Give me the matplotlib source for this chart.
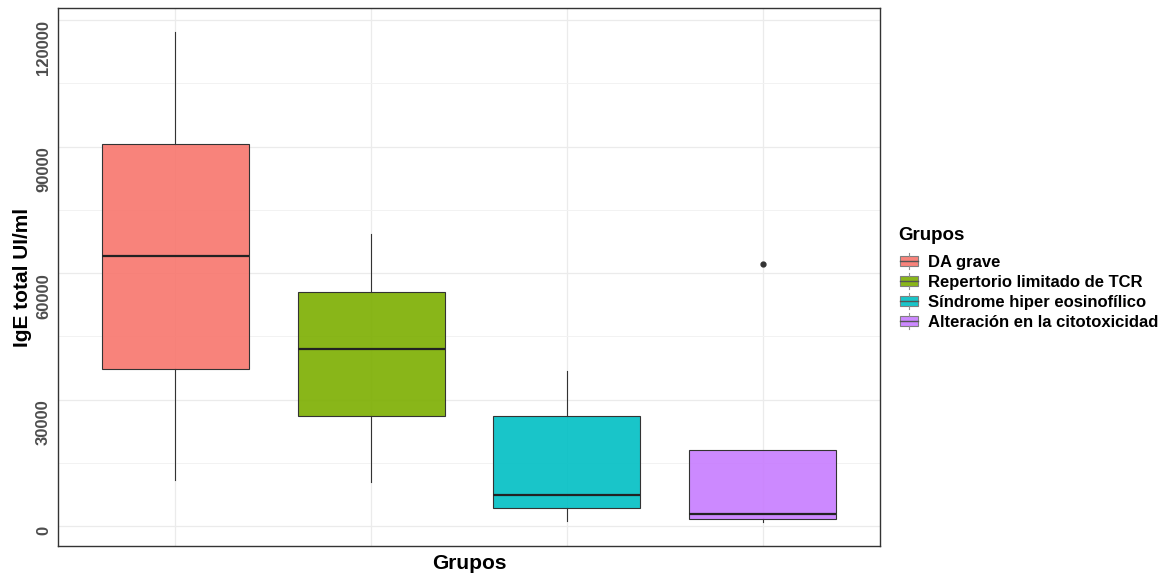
import matplotlib
matplotlib.use("Agg")
import matplotlib.pyplot as plt
from matplotlib.patches import Rectangle
from matplotlib.lines import Line2D
from matplotlib.legend_handler import HandlerBase

plt.rcParams["font.family"] = ["Liberation Sans", "DejaVu Sans"]

# ---- data ----
grupos = ["DA grave", "Repertorio limitado de TCR",
          "Síndrome hiper eosinofílico", "Alteración en la citotoxicidad"]
colores = ["#F8766D", "#7CAE00", "#00BFC4", "#C77CFF"]
whislo = [11000, 10400, 1300, 1100]
q1 = [37300, 26100, 4400, 1800]
med = [64000, 42000, 7350, 2900]
q3 = [90600, 55500, 26100, 18100]
whishi = [117100, 69300, 36800, 18100]
outliers = [[], [], [], [62200]]

yticks = [0, 30000, 60000, 90000, 120000]
yminor = [15000, 45000, 75000, 105000]

fig = plt.figure(figsize=(11.63, 5.76), dpi=100)
ax = fig.add_axes([58 / 1163, 1 - 546 / 576, (880 - 58) / 1163, (546 - 8) / 576])

stats = []
for i, g in enumerate(grupos):
    stats.append(dict(label=g, whislo=whislo[i], q1=q1[i], med=med[i],
                      q3=q3[i], whishi=whishi[i], fliers=outliers[i]))

positions = list(range(1, len(grupos) + 1))
bp = ax.bxp(stats, positions=positions, widths=0.75, patch_artist=True,
            showcaps=False, showfliers=True,
            boxprops=dict(edgecolor="#333333", linewidth=0.8),
            whiskerprops=dict(color="#333333", linewidth=0.8),
            medianprops=dict(color="#222222", linewidth=1.6),
            flierprops=dict(marker="o", markerfacecolor="#333333",
                            markeredgecolor="#333333", markersize=3.5))
for patch, c in zip(bp["boxes"], colores):
    patch.set_facecolor(matplotlib.colors.to_rgba(c, 0.9))
    patch.set_zorder(2)
for ln in bp["medians"]:
    ln.set_zorder(3)

ax.set_xlim(0.4, 4.6)
ax.set_ylim(-4700, 122900)
ax.set_yticks(yticks)
ax.set_yticks(yminor, minor=True)
ax.set_yticklabels([str(v) for v in yticks], rotation=90, va="top",
                   fontsize=12, fontweight="bold", color="#4D4D4D")
ax.set_xticks(positions)
ax.set_xticklabels([])
ax.tick_params(axis="both", which="both", length=0, pad=5)
ax.grid(True, which="major", color="#EBEBEB", linewidth=0.9)
ax.grid(True, which="minor", axis="y", color="#F2F2F2", linewidth=0.7)
ax.set_axisbelow(True)
for s in ax.spines.values():
    s.set_color("#333333")
    s.set_linewidth(1.0)

ax.set_ylabel("IgE total UI/ml", fontsize=15, fontweight="bold", labelpad=3)
ax.set_xlabel("Grupos", fontsize=15, fontweight="bold", labelpad=1)


class BoxKeyHandler(HandlerBase):
    def __init__(self, color):
        super().__init__()
        self.color = color

    def create_artists(self, legend, orig_handle, xdescent, ydescent,
                       width, height, fontsize, trans):
        w = width
        h = height
        x0 = -xdescent
        y0 = -ydescent
        bx = Rectangle((x0, y0 + h * 0.12), w, h * 0.76,
                       facecolor=matplotlib.colors.to_rgba(self.color, 0.9),
                       edgecolor="#7F7F7F", linewidth=0.8, transform=trans)
        cx = x0 + w / 2
        l1 = Line2D([cx, cx], [y0 - h * 0.12, y0 + h * 0.12],
                    color="#8F8F8F", linewidth=0.8, transform=trans)
        l2 = Line2D([cx, cx], [y0 + h * 0.88, y0 + h * 1.12],
                    color="#8F8F8F", linewidth=0.8, transform=trans)
        l3 = Line2D([x0, x0 + w], [y0 + h / 2] * 2,
                    color="#555555", linewidth=1.0, transform=trans)
        return [bx, l1, l2, l3]


fig.text(898 / 1163, 1 - 235 / 576, "Grupos", fontsize=13.5,
         fontweight="bold", ha="left", va="center")

handles = [Rectangle((0, 0), 1, 1) for _ in grupos]
hmap = {h: BoxKeyHandler(c) for h, c in zip(handles, colores)}
leg = fig.legend(handles, grupos, loc="center left",
                 bbox_to_anchor=(900 / 1163, 1 - 292 / 576),
                 frameon=False, handler_map=hmap,
                 prop=dict(size=12, weight="bold"),
                 handlelength=1.1, handleheight=0.85, handletextpad=0.6,
                 labelspacing=0.28, borderaxespad=0, borderpad=0)

fig.savefig("out.png", dpi=100)
